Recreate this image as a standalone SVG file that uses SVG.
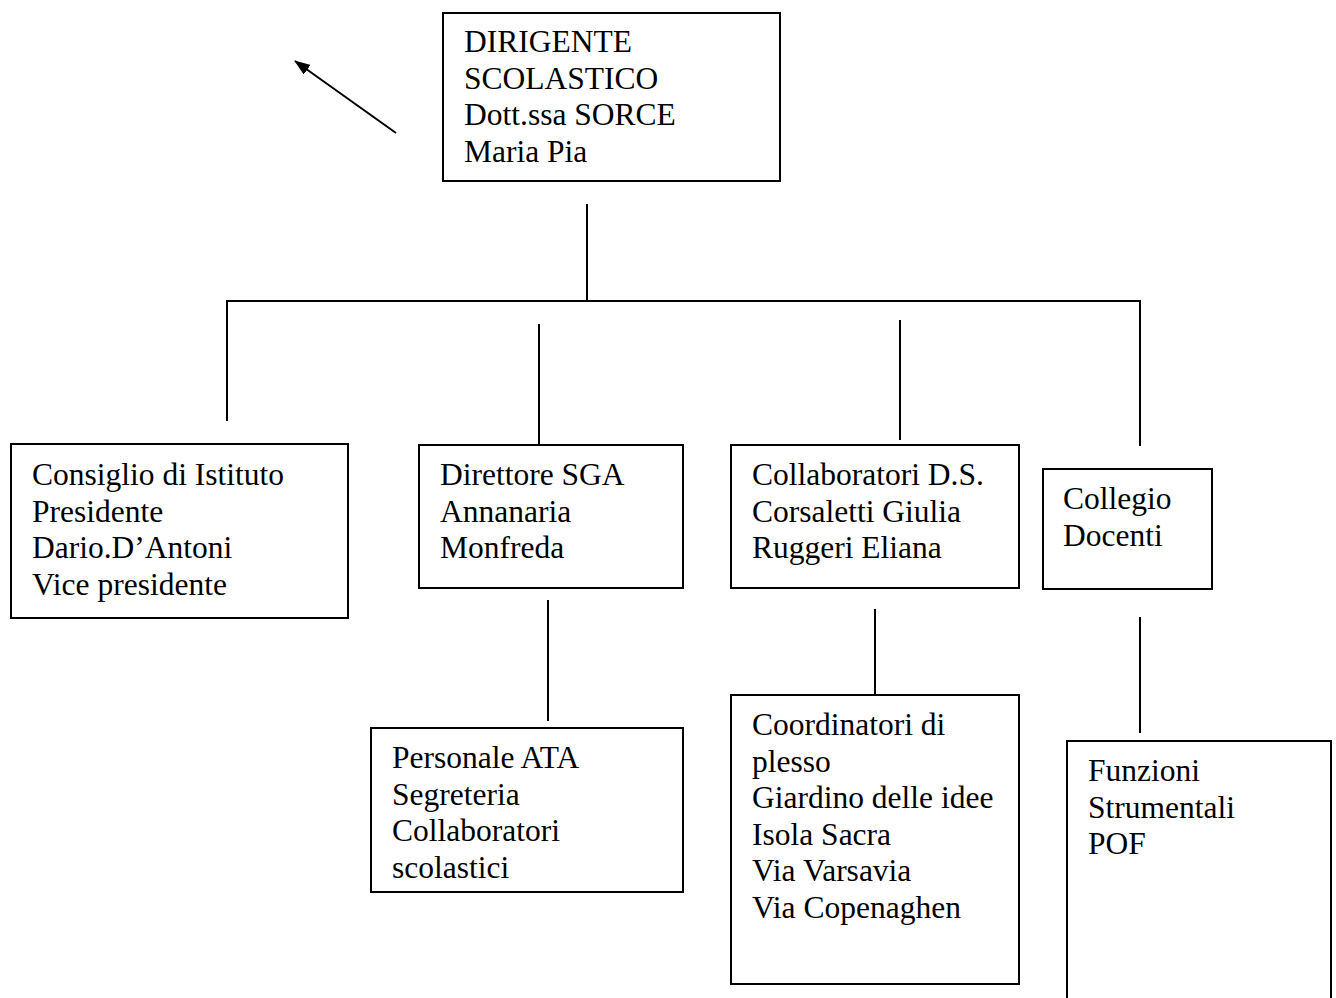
<svg xmlns="http://www.w3.org/2000/svg" width="1336" height="998" viewBox="0 0 1336 998">
<defs>
<style>
.box{fill:#fff;stroke:#000;stroke-width:2}
.ln{fill:none;stroke:#000;stroke-width:2}
text{font-family:"Liberation Serif","Times New Roman",serif;font-size:31.5px;fill:#000}
</style>
<marker id="ah" viewBox="0 0 10 10" refX="9" refY="5" markerWidth="8" markerHeight="8" markerUnits="userSpaceOnUse" orient="auto">
<path d="M0,0 L10,5 L0,10 z" fill="#000"/>
</marker>
<marker id="ah2" viewBox="0 0 16 12" refX="15" refY="6" markerWidth="16" markerHeight="12" markerUnits="userSpaceOnUse" orient="auto">
<path d="M0,0 L16,6 L0,12 z" fill="#000"/>
</marker>
</defs>
<rect width="1336" height="998" fill="#fff"/>
<g id="connectors">
<line class="ln" x1="396" y1="133" x2="295" y2="61" marker-end="url(#ah2)"/>
<line class="ln" x1="587" y1="204" x2="587" y2="301"/>
<polyline class="ln" points="227,421 227,301 1140,301 1140,446"/>
<line class="ln" x1="539" y1="324" x2="539" y2="444"/>
<line class="ln" x1="900" y1="320" x2="900" y2="440"/>
<line class="ln" x1="548" y1="600" x2="548" y2="721"/>
<line class="ln" x1="875" y1="609" x2="875" y2="695"/>
<line class="ln" x1="1140" y1="617" x2="1140" y2="733"/>
</g>
<g id="dirigente">
<rect class="box" x="443" y="13" width="337" height="168"/>
<text x="464" y="52">DIRIGENTE</text>
<text x="464" y="88.5">SCOLASTICO</text>
<text x="464" y="125">Dott.ssa SORCE</text>
<text x="464" y="161.5">Maria Pia</text>
</g>
<g id="consiglio">
<rect class="box" x="11" y="444" width="337" height="174"/>
<text x="32" y="485">Consiglio di Istituto</text>
<text x="32" y="521.5">Presidente</text>
<text x="32" y="558">Dario.D’Antoni</text>
<text x="32" y="594.5">Vice presidente</text>
</g>
<g id="direttore">
<rect class="box" x="419" y="445" width="264" height="143"/>
<text x="440" y="485">Direttore SGA</text>
<text x="440" y="521.5">Annanaria</text>
<text x="440" y="558">Monfreda</text>
</g>
<g id="collaboratori">
<rect class="box" x="731" y="445" width="288" height="143"/>
<text x="752" y="485">Collaboratori D.S.</text>
<text x="752" y="521.5">Corsaletti Giulia</text>
<text x="752" y="558">Ruggeri Eliana</text>
</g>
<g id="collegio">
<rect class="box" x="1043" y="469" width="169" height="120"/>
<text x="1063" y="509">Collegio</text>
<text x="1063" y="545.5">Docenti</text>
</g>
<g id="personale">
<rect class="box" x="371" y="728" width="312" height="164"/>
<text x="392" y="768">Personale ATA</text>
<text x="392" y="804.5">Segreteria</text>
<text x="392" y="841">Collaboratori</text>
<text x="392" y="877.5">scolastici</text>
</g>
<g id="coordinatori">
<rect class="box" x="731" y="695" width="288" height="289"/>
<text x="752" y="735">Coordinatori di</text>
<text x="752" y="771.5">plesso</text>
<text x="752" y="808">Giardino delle idee</text>
<text x="752" y="844.5">Isola Sacra</text>
<text x="752" y="881">Via Varsavia</text>
<text x="752" y="917.5">Via Copenaghen</text>
</g>
<g id="funzioni">
<path class="box" d="M1067,1000 V741 H1331 V1000"/>
<text x="1088" y="781">Funzioni</text>
<text x="1088" y="817.5">Strumentali</text>
<text x="1088" y="854">POF</text>
</g>
</svg>
